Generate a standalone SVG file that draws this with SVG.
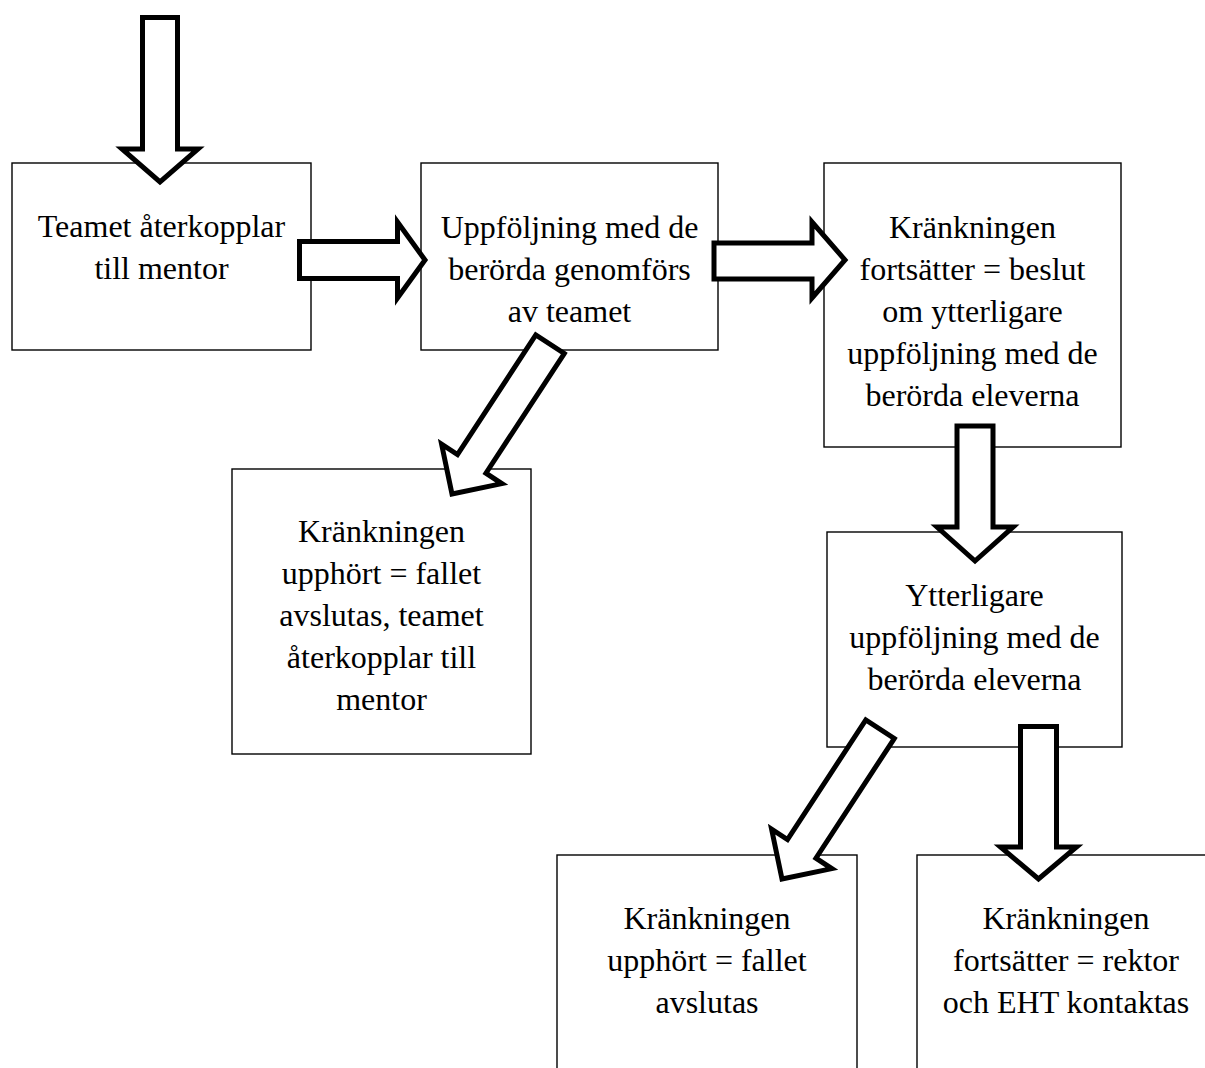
<svg xmlns="http://www.w3.org/2000/svg" width="1205" height="1068" viewBox="0 0 1205 1068">
<style>
.box{fill:#fff;stroke:#000;stroke-width:1.4}
.arr{fill:#fff;stroke:#000;stroke-width:5;stroke-linejoin:miter;stroke-miterlimit:10}
text{font-family:"Liberation Serif","Times New Roman",serif;font-size:32px;fill:#000;text-anchor:middle}
</style>
<rect width="1205" height="1068" fill="#fff"/>
<g id="box1"><rect class="box" x="12" y="163" width="299" height="187"/>
<text x="161.5" y="237">Teamet återkopplar</text><text x="161.5" y="279">till mentor</text></g>
<g id="box2"><rect class="box" x="421" y="163" width="297" height="187"/>
<text x="569.5" y="238">Uppföljning med de</text><text x="569.5" y="280">berörda genomförs</text><text x="569.5" y="322">av teamet</text></g>
<g id="box3"><rect class="box" x="824" y="163" width="297" height="284"/>
<text x="972.5" y="238">Kränkningen</text><text x="972.5" y="280">fortsätter = beslut</text><text x="972.5" y="322">om ytterligare</text><text x="972.5" y="364">uppföljning med de</text><text x="972.5" y="406">berörda eleverna</text></g>
<g id="box4"><rect class="box" x="232" y="469" width="299" height="285"/>
<text x="381.5" y="542">Kränkningen</text><text x="381.5" y="584">upphört = fallet</text><text x="381.5" y="626">avslutas, teamet</text><text x="381.5" y="668">återkopplar till</text><text x="381.5" y="710">mentor</text></g>
<g id="box5"><rect class="box" x="827" y="532" width="295" height="215"/>
<text x="974.5" y="606">Ytterligare</text><text x="974.5" y="648">uppföljning med de</text><text x="974.5" y="690">berörda eleverna</text></g>
<g id="box6"><rect class="box" x="557" y="855" width="300" height="230"/>
<text x="707" y="929">Kränkningen</text><text x="707" y="971">upphört = fallet</text><text x="707" y="1013">avslutas</text></g>
<g id="box7"><rect class="box" x="917" y="855" width="298" height="230"/>
<text x="1066" y="929">Kränkningen</text><text x="1066" y="971">fortsätter = rektor</text><text x="1066" y="1013">och EHT kontaktas</text></g>
<g id="connectors">
<polygon class="arr" points="142.5,17.5 177.5,17.5 177.5,149 198,149 160,182 122,149 142.5,149"/>
<polygon class="arr" points="299.5,241.5 397.5,241.5 397.5,222 425,260 397.5,298 397.5,278.5 299.5,278.5"/>
<polygon class="arr" points="714,243 812,243 812,222 845,260 812,298 812,279 714,279"/>
<polygon class="arr" points="957,426 993,426 993,527 1013,527 975,561 937,527 957,527"/>
<polygon class="arr" points="1020.5,726.5 1056.5,726.5 1056.5,847 1076.5,847 1038.5,879 1000.5,847 1020.5,847"/>
<polygon class="arr" transform="translate(452,494) rotate(123.2)" points="-179,-17 -36,-17 -36,-36 0,0 -36,36 -36,17 -179,17"/>
<polygon class="arr" transform="translate(782,879) rotate(123.2)" points="-179,-17 -36,-17 -36,-36 0,0 -36,36 -36,17 -179,17"/>
</g>
</svg>
